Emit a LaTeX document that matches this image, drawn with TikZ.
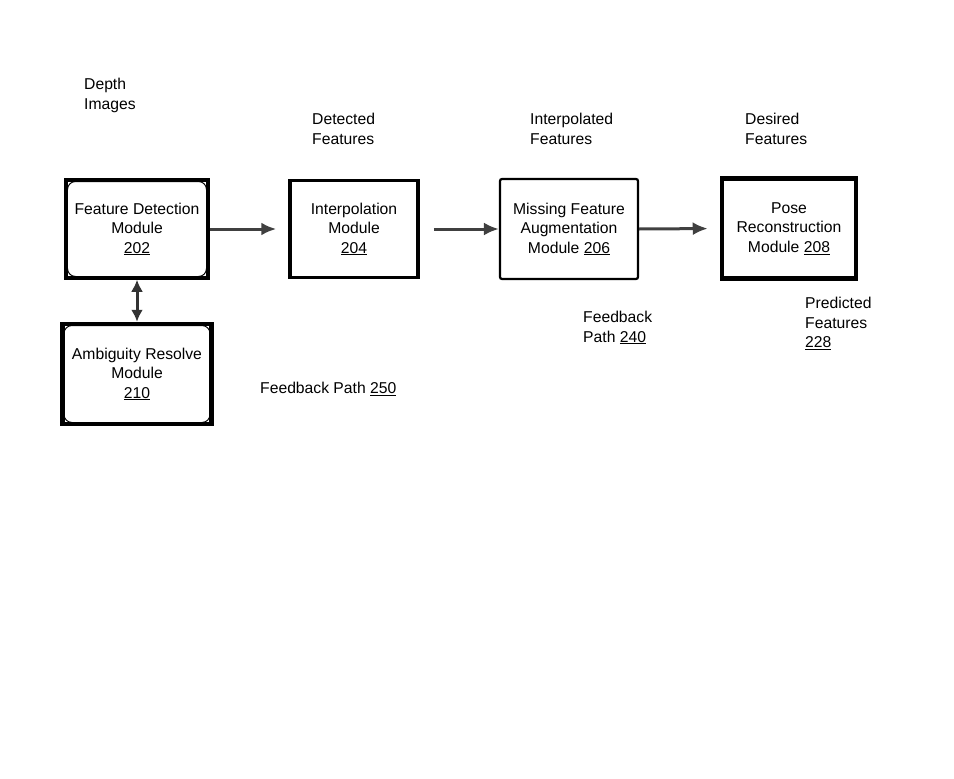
\documentclass[tikz,border=0pt]{standalone}
\usepackage{fontspec}
\setmainfont{Liberation Sans}
\usetikzlibrary{arrows.meta}
\begin{document}
\begin{tikzpicture}[x=1bp,y=-1bp,
  lbl/.style={font=\fontsize{15.7bp}{19.5bp}\selectfont, inner sep=0pt},
  llbl/.style={lbl, align=left, anchor=north west},
  modbox/.style={lbl, align=center, draw, line width=#1, inner sep=0pt},
  inround/.style={path picture={\draw[line width=1bp, rounded corners=8bp]
      ([shift={(1.5bp,1.5bp)}]path picture bounding box.south west) rectangle
      ([shift={(-1.5bp,-1.5bp)}]path picture bounding box.north east);}},
  flow/.style={line width=3bp, draw=black!75, -{Latex[length=15bp,width=13bp]}},
  both/.style={line width=3bp, draw=black!80, {Latex[length=12bp,width=12bp]}-{Latex[length=12bp,width=12bp]}}
]
\useasboundingbox (0,0) rectangle (954,779);

% processing modules
\node[modbox=3.5bp, inround, minimum width=142bp, minimum height=98bp] (fd) at (137,229)
  {Feature Detection\\Module\\\underline{202}};
\node[modbox=3.5bp, minimum width=128bp, minimum height=97bp] (ip) at (354,229)
  {Interpolation\\Module\\\underline{204}};
\node[modbox=2.2bp, rounded corners=2bp, minimum width=138bp, minimum height=100bp] (mf) at (569,229)
  {Missing Feature\\Augmentation\\Module \underline{206}};
\node[modbox=4.5bp, minimum width=134bp, minimum height=100bp] (pr) at (789,228.5)
  {Pose\\Reconstruction\\Module \underline{208}};
\node[modbox=4.5bp, inround, minimum width=149bp, minimum height=100bp] (ar) at (137,374)
  {Ambiguity Resolve\\Module\\\underline{210}};

% connectors
\draw[flow, shorten >=12bp] (fd.east) -- (ip.west);
\draw[flow, shorten <=14bp] (ip.east) -- (mf.west);
\draw[flow, shorten >=12bp] (mf.east) -- (pr.west);
\draw[both] (fd.south) -- (ar.north);

% data labels
\node[llbl] (di) at (84,78) {Depth\\Images};
\node[llbl] (df) at (312,113) {Detected\\Features};
\node[llbl] (if) at (530,113) {Interpolated\\Features};
\node[llbl] (sf) at (745,113) {Desired\\Features};
\node[llbl] (fb1) at (583,311) {Feedback\\Path \underline{240}};
\node[llbl] (pf) at (805,297) {Predicted\\Features\\\underline{228}};
\node[llbl] (fb2) at (260,382) {Feedback Path \underline{250}};
\end{tikzpicture}
\end{document}
